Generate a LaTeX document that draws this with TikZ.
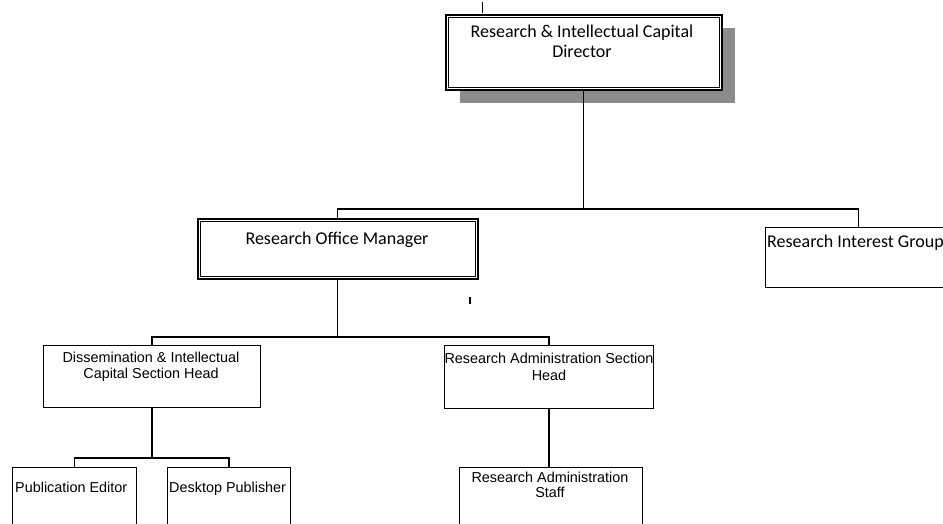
\documentclass[tikz,border=0pt]{standalone}
\usepackage{fontspec}
\newfontfamily\calfont{Carlito}
\newfontfamily\arfont{Liberation Sans}
\begin{document}
\begin{tikzpicture}[x=1pt,y=-1pt,
  box/.style={draw, line width=1.2pt, inner sep=0pt, anchor=north west},
  dbox/.style={draw, line width=1.5pt, inner sep=0pt, anchor=north west},
  innerline/.style={line width=1pt},
  conn/.style={line width=1.4pt},
  caltext/.style={font=\calfont\fontsize{18}{20}\selectfont, align=center, inner sep=0pt},
  artext/.style={font=\arfont\fontsize{14.4}{16.5}\selectfont, align=center, inner sep=0pt},
  shadowfill/.style={fill=black!45, draw=none}
]
\useasboundingbox (0,0) rectangle (943,523);
% shadow of director box
\fill[shadowfill] (460,28) rectangle (735,103);
% boxes
\node[dbox, fill=white, minimum width=276pt, minimum height=75pt] (dir) at (445,14) {};
\draw[innerline] ([shift={(3.5pt,-3.5pt)}]dir.north west) rectangle ([shift={(-3.5pt,3.5pt)}]dir.south east);
\node[dbox, minimum width=280pt, minimum height=60pt] (rom) at (197,218) {};
\draw[innerline] ([shift={(3.5pt,-3.5pt)}]rom.north west) rectangle ([shift={(-3.5pt,3.5pt)}]rom.south east);
\node[box, minimum width=186pt, minimum height=60pt] (rig) at (765,227) {};
\node[box, minimum width=217pt, minimum height=62pt] (dis) at (43,345) {};
\node[box, minimum width=209pt, minimum height=63pt] (ras) at (444,345) {};
\node[box, minimum width=124pt, minimum height=80pt] (pe) at (12,467) {};
\node[box, minimum width=123pt, minimum height=80pt] (dp) at (167,467) {};
\node[box, minimum width=183pt, minimum height=80pt] (staff) at (459,467) {};
% texts
\node[caltext] (dirt) at (582,41) {Research \& Intellectual Capital\\Director};
\node[caltext, anchor=base] (romt) at (337,244) {Research Office Manager};
\node[caltext, anchor=base west] (rigt) at (767,247) {Research Interest Group};
\node[artext] (dist) at (151,367) {Dissemination \& Intellectual\\Capital Section Head};
\node[artext] (rast) at (549,367) {Research Administration Section\\Head};
\node[artext, anchor=base west] (pet) at (15,492) {Publication Editor};
\node[artext, anchor=base west] (dpt) at (169,492) {Desktop Publisher};
\node[artext, font=\arfont\fontsize{14.4}{15}\selectfont] (stafft) at (550,485) {Research Administration\\Staff};
% connectors
\coordinate (busA) at (583,209);
\coordinate (busB) at (338,337);
\coordinate (busC) at (151,458);
\draw[conn] (dir.south) -- (dir.south |- busA);
\draw[conn] (rom.north) |- (busA) -| (rig.north);
\draw[conn] (rom.south) -- (rom.south |- busB);
\draw[conn] (dis.north) |- (busB) -| (ras.north);
\draw[conn] (dis.south) -- (dis.south |- busC);
\draw[conn] (pe.north) |- (busC) -| (dp.north);
\draw[conn] (ras.south) -- (ras.south |- staff.north);
% scan marks
\coordinate (markA) at (482,2);
\coordinate (markB) at (470,297);
\draw[line width=1pt] (markA) -- ++(0,11);
\draw[line width=1.2pt] (markB) -- ++(0,7);
\end{tikzpicture}
\end{document}
